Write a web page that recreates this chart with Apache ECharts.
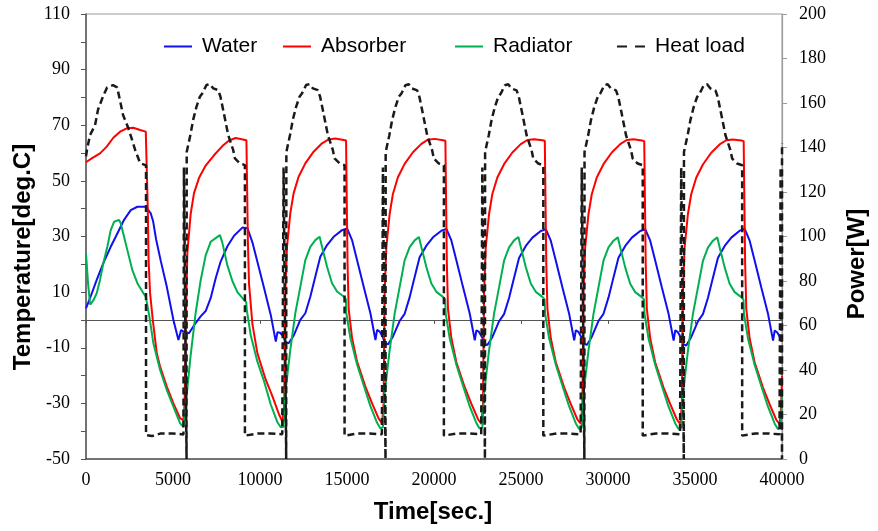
<!DOCTYPE html>
<html>
<head>
<meta charset="utf-8">
<script src="https://cdn.jsdelivr.net/npm/echarts@6/dist/echarts.min.js"></script>
<style>
  html, body { margin: 0; padding: 0; background: #fff; }
  #chart { width: 878px; height: 531px; }
</style>
</head>
<body>
<div id="chart"></div>
<script>
// ---- x axis ----
const timeMin = 0, timeMax = 40000, timeStep = 5000;
// ---- y axes ----
const tempMin = -50, tempMax = 110, tempTickStep = 10, tempLabelStep = 20;
const powerMin = 0, powerMax = 200, powerStep = 20;

const seriesNames = ['Water', 'Absorber', 'Radiator', 'Heat load'];

// Start time [s] of each repeated operating cycle (heat load switched on)
const cycleStart = [5628, 11355, 17063, 22777, 28491, 34206];

// ---- Water temperature [deg.C] ----
const waterFirst = [[0, 4.2], [230, 7.8], [616, 14.4], [996, 20.4], [1421, 26.3], [1801, 31.1], [2187, 36], [2572, 39.5], [2952, 40.7], [3436, 40.7], [3723, 38.3], [3856, 35.5], [4028, 29], [4287, 21.5], [4644, 11.9], [5024, 0], [5312, -7.2], [5350, -7.8], [5467, -3.6], [5600, -4.2]];
const waterDt = [0, 100, 290, 575, 960, 1250, 1540, 1825, 2110, 2500, 2880, 3360, 3650, 3935, 4225, 4605, 4990, 5280, 5375, 5525];
const waterCycles = [
  [-4.2, -4.3, -4.8, -2.0, 1.3, 3.2, 7.9, 15.0, 21.0, 26.5, 30.3, 33.2, 33.0, 27.9, 20.8, 11.5, 1.8, -7.8, -4.4, -4.6],
  [-6.0, -7.8, -8.4, -5.7, 0.0, 2.4, 8.4, 15.6, 22.7, 26.9, 29.9, 32.3, 32.9, 28.7, 21.5, 11.9, 2.4, -7.2, -3.6, -4.2],
  [-6.2, -8.2, -8.8, -6.0, -0.4, 2.2, 8.2, 15.4, 22.5, 26.7, 29.7, 32.1, 32.7, 28.6, 21.4, 11.8, 2.3, -7.3, -3.7, -4.3],
  [-6.4, -8.5, -9.0, -6.2, -0.5, 2.1, 8.0, 15.2, 22.3, 26.6, 29.6, 32.0, 32.6, 28.5, 21.3, 11.7, 2.2, -7.3, -3.7, -4.3],
  [-6.4, -8.4, -9.0, -6.1, -0.4, 2.2, 8.1, 15.3, 22.4, 26.6, 29.6, 32.0, 32.6, 28.5, 21.3, 11.7, 2.2, -7.4, -3.7, -4.4],
  [-6.5, -8.6, -9.2, -6.2, -0.5, 2.1, 8.0, 15.2, 22.3, 26.6, 29.6, 32.1, 32.7, 28.5, 21.3, 11.7, 2.2, -7.4, -3.8, -4.5]
];
const waterLast = [[39920, -6.6], [40000, -7.8]];

// ---- Absorber temperature [deg.C] ----
const absorberFirst = [[0, 56.7], [328, 58.1], [806, 59.9], [1191, 62.3], [1571, 65.5], [1957, 67.7], [2342, 68.9], [2722, 69.1], [3108, 68.3], [3436, 67.7], [3493, 67.5], [3550, 40], [3597, 21.6], [3683, 9.6], [3839, 0], [4069, -12], [4259, -16.8], [4644, -24], [5024, -30], [5410, -35.4], [5600, -36]];
const absorberDt = [0, 40, 98, 196, 386, 576, 863, 1249, 1727, 2210, 2590, 2975, 3453, 3591, 3637, 3677, 3741, 3936, 4224, 4702, 5087, 5467, 5663];
const absorberCycles = [
  [-36.2, -30, -3, 24, 38, 45.5, 51, 55.5, 59.2, 62.5, 64.5, 65.4, 64.8, 64.6, 45, 28, 13, -1.5, -12, -21.5, -27.5, -34, -36.6],
  [-37.0, -30, 9.6, 26.3, 38.3, 45.5, 51.5, 56.3, 60.5, 63.5, 64.9, 65.2, 64.7, 64.5, 40, 20, 4, -6.5, -15, -24, -30, -35.5, -37.2],
  [-37.2, -30, 9.0, 26.0, 38.0, 45.3, 51.3, 56.1, 60.3, 63.3, 64.8, 65.1, 64.6, 64.4, 40, 20, 4, -6.6, -15.2, -24.2, -30.2, -35.7, -37.4],
  [-37.4, -30, 9.0, 26.0, 38.0, 45.3, 51.2, 56.0, 60.2, 63.2, 64.7, 65.0, 64.6, 64.4, 40, 20, 4, -6.6, -15.2, -24.2, -30.3, -35.8, -37.4],
  [-37.4, -30, 9.0, 26.0, 38.0, 45.2, 51.2, 56.0, 60.2, 63.2, 64.7, 65.0, 64.5, 64.3, 40, 20, 4, -6.7, -15.3, -24.3, -30.3, -35.8, -37.5],
  [-37.5, -30, 9.0, 26.0, 38.0, 45.2, 51.1, 55.9, 60.1, 63.1, 64.6, 64.9, 64.5, 64.3, 40, 20, 4, -6.7, -15.3, -24.3, -30.4, -35.9, -37.5]
];
const absorberLast = [[39920, -37.2], [39960, -30], [40000, -20]];

// ---- Radiator temperature [deg.C] ----
const radiatorFirst = [[0, 24], [120, 13], [240, 5.5], [330, 5.8], [420, 7], [616, 9.6], [806, 14.4], [996, 20.4], [1226, 26.3], [1421, 32.3], [1611, 35.3], [1899, 36], [1997, 34.7], [2187, 29.9], [2377, 25.1], [2665, 17.9], [2952, 13.2], [3240, 10.2], [3436, 8.4], [3528, 7.8], [3643, 1.2], [3873, -8.4], [4259, -18], [4644, -25.2], [5024, -31.2], [5410, -37.2], [5600, -38.4]];
const radiatorDt = [0, 98, 386, 673, 961, 1249, 1537, 1824, 2072, 2210, 2498, 2785, 3073, 3453, 3580, 3608, 3839, 4224, 4604, 4990, 5375, 5565];
const radiatorCycles = [
  [-38.6, -31, -12.7, 2.5, 14.2, 23.2, 28.1, 29.4, 30.5, 27.7, 19.6, 14.0, 10.0, 7.2, 6.4, 3.8, -5.5, -15.0, -22.0, -30.4, -36.8, -38.6],
  [-38.4, -26.4, -10.8, 2.4, 11.9, 21.5, 26.3, 28.7, 29.9, 26.3, 19.1, 13.2, 10.2, 8.4, 7.5, 2.4, -6.5, -16.0, -23.5, -31.0, -37.0, -39.0],
  [-38.6, -26.6, -11.0, 2.2, 11.8, 21.4, 26.2, 28.6, 29.8, 26.2, 19.0, 13.1, 10.1, 8.3, 7.4, 2.3, -6.6, -16.1, -23.6, -31.1, -37.1, -39.1],
  [-38.7, -26.7, -11.0, 2.2, 11.7, 21.3, 26.1, 28.6, 29.8, 26.2, 19.0, 13.1, 10.1, 8.3, 7.4, 2.3, -6.6, -16.1, -23.6, -31.1, -37.2, -39.2],
  [-38.8, -26.7, -11.1, 2.1, 11.7, 21.3, 26.1, 28.5, 29.7, 26.1, 18.9, 13.0, 10.0, 8.2, 7.3, 2.2, -6.7, -16.2, -23.7, -31.2, -37.2, -39.2],
  [-38.8, -26.8, -11.1, 2.1, 11.6, 21.2, 26.0, 28.5, 29.7, 26.1, 18.9, 13.0, 10.0, 8.2, 7.3, 2.2, -6.7, -16.2, -23.7, -31.2, -37.3, -39.3]
];
const radiatorLast = [[39920, -38.6], [39960, -34], [40000, -26]];

// ---- Heat load [W] ----
const heatFirst = [[0, 136], [60, 139], [230, 145.6], [520, 150], [690, 157], [980, 163], [1210, 167], [1550, 168], [1790, 167], [1960, 161], [2130, 154.6], [2420, 149], [2650, 143.4], [2820, 139], [3110, 133], [3450, 132], [3450, 10.8], [3800, 10.3], [4300, 11.5], [5000, 11.5], [5600, 11]];
const heatDt = [0, 150, 160, 370, 530, 720, 915, 1065, 1295, 1490, 1680, 1970, 2100, 2255, 2410, 2545, 2830, 2930, 3215, 3505, 3505, 3600, 4270, 4945, 5650];
const heatCycles = [
  [131, 0, 138, 145.6, 152.4, 158.3, 162.8, 164.4, 168.1, 168.5, 166.6, 165.8, 162.8, 156.9, 150.9, 145.6, 138.9, 135.1, 132.9, 132.1, 10.5, 10.5, 11.5, 11.5, 11.1],
  [131, 0, 138, 145.6, 152.4, 158.3, 162.8, 164.4, 168.1, 168.5, 166.6, 165.8, 162.8, 156.9, 150.9, 145.6, 138.9, 135.1, 132.9, 132.1, 10.5, 10.5, 11.5, 11.5, 11.1],
  [131, 0, 138, 145.5, 152.3, 158.2, 162.8, 164.3, 168.0, 168.4, 166.5, 165.7, 162.7, 156.8, 150.8, 145.5, 138.8, 135.0, 132.8, 132.0, 10.5, 10.5, 11.5, 11.5, 11.1],
  [131, 0, 138, 145.5, 152.3, 158.2, 162.7, 164.3, 168.0, 168.4, 166.5, 165.7, 162.7, 156.8, 150.8, 145.5, 138.8, 135.0, 132.8, 132.0, 10.5, 10.5, 11.5, 11.5, 11.1],
  [131, 0, 138, 145.5, 152.3, 158.2, 162.7, 164.3, 168.0, 168.4, 166.5, 165.7, 162.7, 156.8, 150.8, 145.5, 138.8, 135.0, 132.8, 132.0, 10.5, 10.5, 11.5, 11.5, 11.1],
  [131, 0, 138, 145.5, 152.3, 158.2, 162.7, 164.3, 168.0, 168.4, 166.5, 165.7, 162.7, 156.8, 150.8, 145.5, 138.8, 135.0, 132.8, 132.0, 10.5, 10.5, 11.5, 11.5, 11.1]
];
const heatLast = [[39920, 11.1], [39920, 131], [40000, 0], [40000, 142]];

// Join the opening part, the repeated cycles (offset by their start time) and the closing part
function joinCycles(first, dts, cycles, last) {
  const out = first.map(p => p.slice());
  cycles.forEach((vals, k) => {
    vals.forEach((v, i) => out.push([cycleStart[k] + dts[i], v]));
  });
  last.forEach(p => out.push(p.slice()));
  return out;
}

const waterData = joinCycles(waterFirst, waterDt, waterCycles, waterLast);
const absorberData = joinCycles(absorberFirst, absorberDt, absorberCycles, absorberLast);
const radiatorData = joinCycles(radiatorFirst, radiatorDt, radiatorCycles, radiatorLast);
const heatData = joinCycles(heatFirst, heatDt, heatCycles, heatLast);

const tickFont = { fontFamily: '"Liberation Serif", "Times New Roman", serif', fontSize: 18, color: '#000' };
const legendFont = { fontFamily: '"Liberation Sans", Arial, sans-serif', fontSize: 21, color: '#000', padding: [0, 0, 0, 5] };
const titleFont = 'bold 24px "Liberation Sans", Arial, sans-serif';

// legend keys: a plain stroke for the solid series, two short strokes for the dashed one
const solidKey = 'rect';
const dashedKey = 'path://M0,0H10V2H0Z M18,0H28V2H18Z';

function legendAt(name, left, icon) {
  return {
    data: [name], left: left, top: 36, padding: 0, icon: icon,
    itemWidth: 28, itemHeight: 2, textStyle: legendFont, selectedMode: false
  };
}

const chart = echarts.init(document.getElementById('chart'), null, { renderer: 'canvas' });
chart.setOption({
  animation: false,
  backgroundColor: '#fff',
  grid: { left: 86, right: 96, top: 14, bottom: 72, show: true, borderColor: '#9a9a9a', borderWidth: 1, backgroundColor: 'transparent' },
  legend: [
    legendAt(seriesNames[0], 164, solidKey),
    legendAt(seriesNames[1], 283, solidKey),
    legendAt(seriesNames[2], 455, solidKey),
    legendAt(seriesNames[3], 617, dashedKey)
  ],
  xAxis: [
    {
      type: 'value', position: 'bottom', min: timeMin, max: timeMax, interval: timeStep,
      axisLine: { show: true, onZero: false, lineStyle: { color: '#555', width: 1.5 } },
      axisTick: { show: false },
      axisLabel: Object.assign({ margin: 12, formatter: v => String(v) }, tickFont),
      splitLine: { show: false }
    },
    {
      // horizontal reference line at 0 deg.C with its ticks
      type: 'value', position: 'top', min: timeMin, max: timeMax, interval: timeStep,
      axisLine: { show: true, onZero: true, onZeroAxisIndex: 0, lineStyle: { color: '#555', width: 1.2 } },
      axisTick: { show: true, inside: true, length: 4, lineStyle: { color: '#555', width: 1 } },
      axisLabel: { show: false },
      splitLine: { show: false }
    }
  ],
  yAxis: [
    {
      type: 'value', position: 'left', min: tempMin, max: tempMax, interval: tempTickStep,
      axisLine: { show: true, onZero: false, lineStyle: { color: '#555', width: 1.5 } },
      axisTick: { show: true, length: 5, lineStyle: { color: '#555', width: 1 } },
      axisLabel: Object.assign({
        margin: 16,
        formatter: v => ((v - tempMin) % tempLabelStep === 0 ? String(v) : '')
      }, tickFont),
      splitLine: { show: false }
    },
    {
      type: 'value', position: 'right', min: powerMin, max: powerMax, interval: powerStep,
      axisLine: { show: true, onZero: false, lineStyle: { color: '#9a9a9a', width: 1.2 } },
      axisTick: { show: true, length: 5, lineStyle: { color: '#9a9a9a', width: 1 } },
      axisLabel: Object.assign({ margin: 17 }, tickFont),
      splitLine: { show: false }
    }
  ],
  graphic: [
    { type: 'text', x: 23, y: 257, rotation: Math.PI / 2,
      style: { text: 'Temperature[deg.C]', font: titleFont, fill: '#000', align: 'center', verticalAlign: 'middle' } },
    { type: 'text', x: 857, y: 264, rotation: Math.PI / 2,
      style: { text: 'Power[W]', font: titleFont, fill: '#000', align: 'center', verticalAlign: 'middle' } },
    { type: 'text', x: 433, y: 512,
      style: { text: 'Time[sec.]', font: titleFont, fill: '#000', align: 'center', verticalAlign: 'middle' } }
  ],
  series: [
    { name: seriesNames[0], type: 'line', xAxisIndex: 0, yAxisIndex: 0, data: waterData, symbol: 'none',
      lineStyle: { color: '#1010ee', width: 2 }, itemStyle: { color: '#1010ee' } },
    { name: seriesNames[1], type: 'line', xAxisIndex: 0, yAxisIndex: 0, data: absorberData, symbol: 'none',
      lineStyle: { color: '#ff0000', width: 2 }, itemStyle: { color: '#ff0000' } },
    { name: seriesNames[2], type: 'line', xAxisIndex: 0, yAxisIndex: 0, data: radiatorData, symbol: 'none',
      lineStyle: { color: '#00b050', width: 2 }, itemStyle: { color: '#00b050' } },
    { name: seriesNames[3], type: 'line', xAxisIndex: 0, yAxisIndex: 1, data: heatData, symbol: 'none',
      lineStyle: { color: '#1a1a1a', width: 2.5, type: [7, 4] }, itemStyle: { color: '#1a1a1a' } }
  ]
});
</script>
</body>
</html>
